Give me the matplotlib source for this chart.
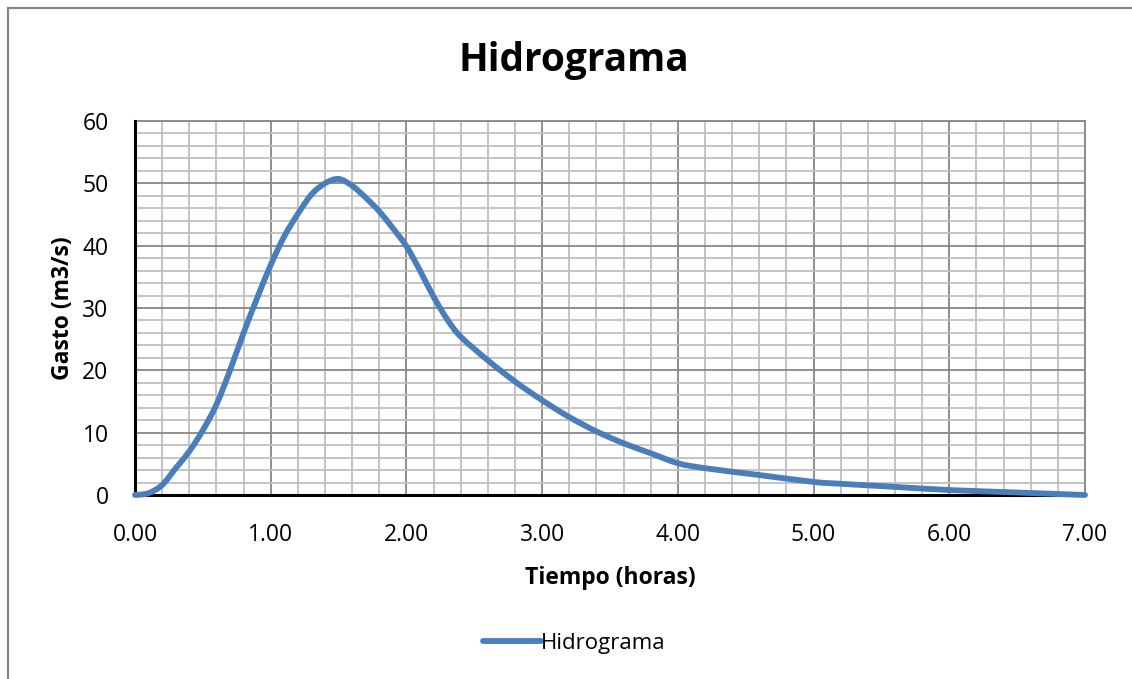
import matplotlib.pyplot as plt
import numpy as np
from matplotlib.lines import Line2D
from matplotlib.path import Path
from matplotlib.patches import PathPatch
from matplotlib.ticker import MultipleLocator, FormatStrFormatter

tiempo = [0.00, 0.10, 0.20, 0.30, 0.40, 0.50, 0.60, 0.70, 0.80, 0.90, 1.00, 1.10,
          1.20, 1.30, 1.40, 1.50, 1.60, 1.70, 1.80, 1.90, 2.00, 2.10, 2.20, 2.30,
          2.40, 2.60, 2.80, 3.00, 3.20, 3.40, 3.60, 3.80, 4.00, 4.20, 4.60, 5.00,
          5.20, 5.60, 6.00, 6.50, 7.00]
gasto = [0.0, 0.3, 1.6, 4.3, 7.0, 10.4, 14.5, 20.0, 26.0, 31.6, 36.9, 41.5,
         45.1, 48.2, 50.0, 50.7, 49.6, 47.7, 45.5, 42.8, 39.9, 36.0, 31.8, 28.2,
         25.4, 21.6, 18.2, 15.2, 12.5, 10.2, 8.3, 6.7, 5.1, 4.3, 3.2, 2.1,
         1.8, 1.3, 0.8, 0.4, 0.0]

azul = '#4A7EBB'


def linea_suave(x, y):
    # curva bezier tipo "linea suavizada" de excel
    p = np.column_stack([x, y]).astype(float)
    verts = [p[0]]
    codes = [Path.MOVETO]
    n = len(p)
    for i in range(n - 1):
        p0 = p[i - 1] if i > 0 else p[i]
        p3 = p[i + 2] if i + 2 < n else p[i + 1]
        c1 = p[i] + (p[i + 1] - p0) / 6
        c2 = p[i + 1] - (p3 - p[i]) / 6
        verts += [c1, c2, p[i + 1]]
        codes += [Path.CURVE4] * 3
    return Path(verts, codes)


plt.rcParams['font.family'] = ['Open Sans', 'DejaVu Sans']

fig = plt.figure(figsize=(11.32, 6.79), dpi=100)
ax = fig.add_axes([135/1132, 1-495/679, 950/1132, 374/679])

# marco exterior (solo se ven arriba e izquierda)
fig.add_artist(Line2D([8/1132, 1], [1-8/679, 1-8/679], color='#878787', lw=1.6))
fig.add_artist(Line2D([8/1132, 8/1132], [0, 1-8/679], color='#878787', lw=1.6))

ax.add_patch(PathPatch(linea_suave(tiempo, gasto), facecolor='none', edgecolor=azul,
                       lw=4.2, capstyle='round', joinstyle='round', zorder=5,
                       clip_on=False))

ax.set_xlim(0, 7)
ax.set_ylim(0, 60)
ax.xaxis.set_major_locator(MultipleLocator(1))
ax.xaxis.set_minor_locator(MultipleLocator(0.2))
ax.yaxis.set_major_locator(MultipleLocator(10))
ax.yaxis.set_minor_locator(MultipleLocator(2))
ax.xaxis.set_major_formatter(FormatStrFormatter('%.2f'))

ax.grid(True, which='minor', color='#BFBFBF', lw=1.3, zorder=0)
ax.grid(True, which='major', color='#878787', lw=1.3, zorder=1)
ax.set_axisbelow(True)

ax.tick_params(which='both', length=0, labelsize=16.5, colors='black')
ax.tick_params(axis='x', pad=20)
ax.tick_params(axis='y', pad=19)

for s in ['top', 'right']:
    ax.spines[s].set_color('#878787')
    ax.spines[s].set_linewidth(1.3)
for s in ['left', 'bottom']:
    ax.spines[s].set_color('black')
    ax.spines[s].set_linewidth(2.2)
    ax.spines[s].set_zorder(4)

ax.set_xlabel('Tiempo (horas)', fontsize=16.5, fontweight='bold', labelpad=14)
ax.set_ylabel('Gasto (m3/s)', fontsize=16.5, fontweight='bold', labelpad=5)
fig.text(574/1132, 1-60/679, 'Hidrograma', fontsize=28, fontweight='bold',
         ha='center', va='center')

leyenda = [Line2D([], [], color=azul, lw=4.2, solid_capstyle='round')]
fig.legend(leyenda, ['Hidrograma'], loc='center', bbox_to_anchor=(574/1132, 1-643/679),
           frameon=False, fontsize=16, handlelength=2.6, handletextpad=0.0)

fig.savefig('out.png', dpi=100)
